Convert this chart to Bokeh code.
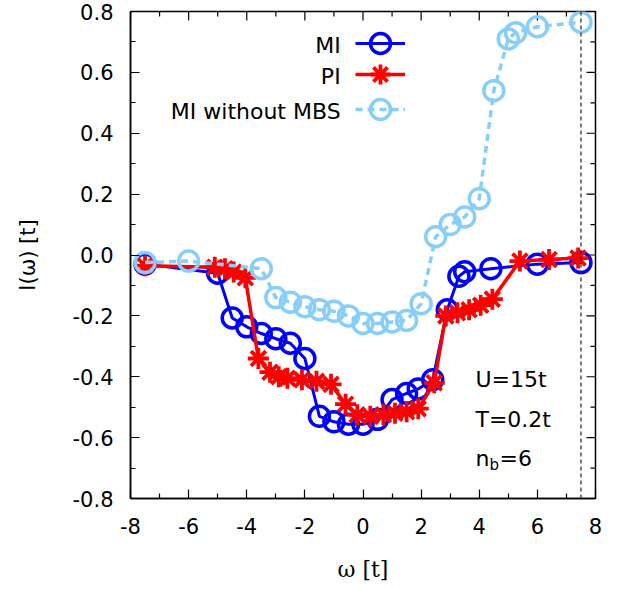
from bokeh.plotting import figure
from bokeh.models import (LinearAxis, FixedTicker, PrintfTickFormatter, Span, Label,
                          Legend, LegendItem, Range1d)
from bokeh.embed import file_html
from bokeh.resources import INLINE

# ---- data ----
mi_x = [-7.5, -5.0, -4.5, -4.0, -3.5, -3.0, -2.5, -2.0, -1.5, -1.0, -0.5, 0.0, 0.5,
        1.0, 1.5, 1.9, 2.4, 2.9, 3.3, 3.5, 4.4, 6.0, 7.5]
mi_y = [-0.03, -0.06, -0.207, -0.236, -0.258, -0.275, -0.29, -0.34, -0.53, -0.548,
        -0.556, -0.556, -0.54, -0.475, -0.455, -0.44, -0.41, -0.18, -0.07, -0.055,
        -0.045, -0.03, -0.025]

pi_x = [-7.5, -5.1, -4.75, -4.45, -4.05, -3.6, -3.2, -2.9, -2.6, -2.1, -1.6, -1.1,
        -0.6, -0.2, 0.25, 0.7, 1.1, 1.5, 1.9, 2.45, 2.85, 3.25, 3.65, 4.05, 4.45,
        5.4, 6.4, 7.4]
pi_y = [-0.035, -0.04, -0.045, -0.056, -0.075, -0.34, -0.385, -0.4, -0.405, -0.41,
        -0.415, -0.425, -0.49, -0.525, -0.53, -0.525, -0.52, -0.515, -0.505, -0.42,
        -0.2, -0.19, -0.18, -0.165, -0.145, -0.02, -0.015, -0.01]

nombs_x = [-7.5, -6.0, -3.5, -3.0, -2.5, -2.0, -1.5, -1.0, -0.5, 0.0, 0.5, 1.0, 1.5,
           2.0, 2.5, 3.0, 3.5, 4.0, 4.5, 5.0, 5.25, 6.0, 7.5]
nombs_y = [-0.025, -0.02, -0.045, -0.14, -0.155, -0.17, -0.18, -0.185, -0.2, -0.225,
           -0.225, -0.22, -0.215, -0.16, 0.06, 0.1, 0.125, 0.185, 0.54, 0.71, 0.73,
           0.75, 0.765]

x_ticks = [-8, -6, -4, -2, 0, 2, 4, 6, 8]
x_minor = [-7, -5, -3, -1, 1, 3, 5, 7]
y_ticks = [-0.8, -0.6, -0.4, -0.2, 0.0, 0.2, 0.4, 0.6, 0.8]
y_minor = [-0.7, -0.5, -0.3, -0.1, 0.1, 0.3, 0.5, 0.7]
series_labels = ["MI", "PI", "MI without MBS"]
cutoff_x = 7.5

X0, X1 = -8, 8
Y0, Y1 = -0.8, 0.8

FONT = "DejaVu Sans"
SERIF = "DejaVu Serif"
BLUE = "#0000ff"
RED = "#ff0000"
SKY = "#87cefa"

FRAME_W, FRAME_H = 465, 488
BL, BR, BT, BB = 130, 25, 11, 85

p = figure(width=BL + FRAME_W + BR, height=BT + FRAME_H + BB, output_backend="svg",
           toolbar_location=None,
           x_range=Range1d(X0, X1), y_range=Range1d(Y0, Y1),
           min_border_left=BL, min_border_right=BR, min_border_top=BT,
           min_border_bottom=BB, x_axis_location=None, y_axis_location=None)
p.xgrid.visible = False
p.ygrid.visible = False
p.outline_line_color = "black"
p.outline_line_width = 1.5
p.background_fill_color = "white"
p.border_fill_color = "white"

MAJ, MIN = 9, 5


def style_axis(ax, ticks, minor):
    ax.ticker = FixedTicker(ticks=ticks, minor_ticks=minor)
    ax.major_tick_in = MAJ
    ax.major_tick_out = 0
    ax.minor_tick_in = MIN
    ax.minor_tick_out = 0
    ax.axis_line_color = "black"
    ax.axis_line_width = 1.5
    ax.major_tick_line_width = 1.2
    ax.minor_tick_line_width = 1.2
    ax.major_label_text_font = FONT
    ax.major_label_text_font_size = "21px"
    ax.major_label_text_color = "black"
    ax.axis_label_text_color = "black"


xb = LinearAxis(axis_label="ω [t]")
style_axis(xb, x_ticks, x_minor)
xb.formatter = PrintfTickFormatter(format="%d")
xb.major_label_standoff = 19
xb.axis_label_text_font = SERIF
xb.axis_label_text_font_style = "normal"
xb.axis_label_text_font_size = "22px"
xb.axis_label_standoff = 20
p.add_layout(xb, "below")

yl = LinearAxis(axis_label="I(ω) [t]")
style_axis(yl, y_ticks, y_minor)
yl.formatter = PrintfTickFormatter(format="%.1f")
yl.major_label_standoff = 17
yl.axis_label_text_font = FONT
yl.axis_label_text_font_style = "normal"
yl.axis_label_text_font_size = "21px"
yl.axis_label_standoff = 30
p.add_layout(yl, "left")

# mirrored inward ticks on top and right edges (data units from pixel lengths)
dy_per_px = (Y1 - Y0) / FRAME_H
dx_per_px = (X1 - X0) / FRAME_W
for ticks, L in ((x_ticks, MAJ), (x_minor, MIN)):
    p.segment(x0=ticks, y0=[Y1] * len(ticks), x1=ticks,
              y1=[Y1 - L * dy_per_px] * len(ticks), line_color="black", line_width=1.2)
for ticks, L in ((y_ticks, MAJ), (y_minor, MIN)):
    p.segment(x0=[X1] * len(ticks), y0=ticks, x1=[X1 - L * dx_per_px] * len(ticks),
              y1=ticks, line_color="black", line_width=1.2)

p.add_layout(Span(location=cutoff_x, dimension="height", line_color="#333333",
                  line_width=1.3, line_dash="4 3"))

l1 = p.line(mi_x, mi_y, line_color=BLUE, line_width=3)
m1 = p.scatter(mi_x, mi_y, marker="circle", size=20, fill_alpha=0,
               line_color=BLUE, line_width=3.5)
l2 = p.line(pi_x, pi_y, line_color=RED, line_width=3.5)
m2 = p.scatter(pi_x, pi_y, marker="asterisk", size=21, line_color=RED, line_width=3.8)
l3 = p.line(nombs_x, nombs_y, line_color=SKY, line_width=3.5, line_dash="7 5")
m3 = p.scatter(nombs_x, nombs_y, marker="circle", size=20, fill_alpha=0,
               line_color=SKY, line_width=3.5)

# one single-item legend per series: glyph to the right of a right-aligned label
for rends, ybot in (([l1, m1], 430), ([l2, m2], 399), ([l3, m3], 364)):
    lg = Legend(items=[LegendItem(label=" ", renderers=rends)],
                location=(225, ybot), glyph_width=50, glyph_height=50, spacing=0,
                padding=0, margin=0, border_line_alpha=0, background_fill_alpha=0,
                label_text_font_size="1px", label_width=1, label_height=1,
                label_standoff=0)
    p.add_layout(lg, "center")

for lab, yy in zip(series_labels, [0.689, 0.587, 0.472]):
    p.add_layout(Label(x=-0.77, y=yy, text=lab, text_align="right",
                       text_baseline="middle", text_font=FONT,
                       text_font_size="22px", text_color="black"))

ann_x = 3.87
p.add_layout(Label(x=ann_x, y=-0.41, text="U=15t", text_baseline="middle",
                   text_font=FONT, text_font_size="22px", text_color="black"))
p.add_layout(Label(x=ann_x, y=-0.54, text="T=0.2t", text_baseline="middle",
                   text_font=FONT, text_font_size="22px", text_color="black"))
p.add_layout(Label(x=ann_x, y=-0.67, text="n", text_baseline="middle",
                   text_font=FONT, text_font_size="22px", text_color="black"))
p.add_layout(Label(x=ann_x, y=-0.67, x_offset=14, y_offset=-6, text="b",
                   text_baseline="middle", text_font=FONT, text_font_size="15px",
                   text_color="black"))
p.add_layout(Label(x=ann_x, y=-0.67, x_offset=24, text="=6", text_baseline="middle",
                   text_font=FONT, text_font_size="22px", text_color="black"))

open("out.html", "w").write(file_html(p, INLINE))
